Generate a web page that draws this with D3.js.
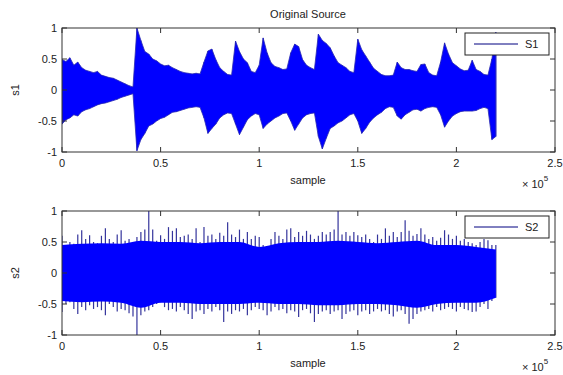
<!DOCTYPE html>
<html>
<head>
<meta charset="utf-8">
<script src="https://cdn.jsdelivr.net/npm/d3@7"></script>
<style>
  body { margin: 0; background: #fff; }
  text { font-family: "Liberation Sans", Arial, sans-serif; fill: #222; }
</style>
</head>
<body>
<div id="chart"></div>
<script>
// sample grid (x 10^5)
const step = 0.02;
const samplePos = d3.range(0, 2.2001, step);
const bodyPos = d3.range(0, 2.2001, 0.1);

const xTicks = [0, 0.5, 1, 1.5, 2, 2.5];
const yTicks = [-1, -0.5, 0, 0.5, 1];

// S1 envelope, every 0.02e5 samples
const s1Upper = [0.49,0.46,0.52,0.40,0.45,0.36,0.32,0.30,0.28,0.30,0.24,0.22,0.20,0.19,0.16,0.13,0.10,0.07,0.05,
  1.00,0.80,0.62,0.58,0.50,0.47,0.42,0.39,0.40,0.36,0.33,0.30,0.28,0.27,0.26,0.27,0.26,
  0.45,0.63,0.66,0.49,0.36,0.30,0.25,0.24,0.79,0.62,0.50,0.44,0.30,0.28,
  0.40,0.84,0.60,0.44,0.38,0.36,0.33,0.34,0.60,0.74,0.70,0.49,0.40,0.36,0.33,
  0.90,0.80,0.75,0.68,0.55,0.44,0.40,0.36,0.30,0.28,0.82,0.65,0.55,0.45,0.35,0.30,0.25,0.23,0.23,0.24,
  0.45,0.36,0.33,0.33,0.31,0.30,0.41,0.42,0.28,0.24,0.23,0.45,0.76,0.58,0.44,0.39,0.34,0.31,0.32,0.48,
  0.33,0.30,0.25,0.24,0.50,0.93];
const s1Lower = [-0.55,-0.48,-0.45,-0.40,-0.42,-0.35,-0.32,-0.30,-0.27,-0.24,-0.22,-0.21,-0.19,-0.17,-0.15,-0.12,-0.10,-0.08,-0.06,
  -0.98,-0.80,-0.70,-0.58,-0.55,-0.50,-0.46,-0.44,-0.40,-0.36,-0.35,-0.33,-0.31,-0.29,-0.28,-0.27,-0.28,
  -0.45,-0.70,-0.62,-0.55,-0.45,-0.40,-0.37,-0.38,-0.55,-0.72,-0.60,-0.48,-0.42,-0.38,
  -0.40,-0.62,-0.55,-0.50,-0.45,-0.42,-0.38,-0.37,-0.50,-0.65,-0.55,-0.45,-0.40,-0.38,-0.37,
  -0.75,-0.95,-0.78,-0.62,-0.58,-0.53,-0.50,-0.45,-0.40,-0.38,-0.50,-0.70,-0.62,-0.52,-0.45,-0.40,-0.36,-0.30,-0.27,-0.28,
  -0.42,-0.47,-0.40,-0.36,-0.32,-0.31,-0.34,-0.30,-0.28,-0.27,-0.28,-0.40,-0.60,-0.50,-0.42,-0.38,-0.35,-0.34,-0.34,-0.34,
  -0.33,-0.30,-0.28,-0.30,-0.80,-0.75];

// S2 peaks every 0.02e5 samples, and the dense body every 0.1e5
const s2Upper = [0.60,0.45,0.50,0.47,0.62,0.69,0.55,0.61,0.50,0.48,0.60,0.72,0.55,0.50,0.62,0.69,0.52,0.55,0.48,0.58,
  0.66,0.70,1.00,0.70,0.52,0.61,0.55,0.74,0.68,0.72,0.58,0.60,0.62,0.55,0.72,0.50,0.74,0.60,0.62,0.55,
  0.65,0.60,0.82,0.62,0.58,0.70,0.55,0.66,0.55,0.60,0.58,0.45,0.42,0.55,0.66,0.60,0.55,0.70,0.72,0.58,
  0.66,0.60,0.68,0.62,0.55,0.60,0.66,0.62,0.66,0.70,1.00,0.62,0.66,0.60,0.66,0.61,0.58,0.62,0.55,0.50,
  0.62,0.55,0.72,0.60,0.66,0.58,0.66,0.85,0.68,0.60,0.63,0.72,0.62,0.55,0.58,0.52,0.57,0.69,0.62,0.55,
  0.60,0.52,0.55,0.50,0.48,0.45,0.50,0.55,0.53,0.45,0.45];
const s2Lower = [-0.63,-0.50,-0.47,-0.58,-0.66,-0.55,-0.60,-0.52,-0.58,-0.55,-0.60,-0.68,-0.50,-0.55,-0.62,-0.58,-0.60,-0.65,-0.70,-1.00,
  -0.68,-0.62,-0.60,-0.55,-0.50,-0.47,-0.55,-0.60,-0.58,-0.62,-0.55,-0.60,-0.66,-0.74,-0.62,-0.60,-0.66,-0.58,-0.62,-0.55,
  -0.60,-0.79,-0.62,-0.66,-0.60,-0.62,-0.58,-0.68,-0.60,-0.55,-0.58,-0.60,-0.68,-0.62,-0.55,-0.60,-0.58,-0.65,-0.60,-0.62,
  -0.71,-0.60,-0.58,-0.65,-0.79,-0.66,-0.62,-0.60,-0.66,-0.62,-0.60,-0.74,-0.66,-0.62,-0.60,-0.68,-0.62,-0.60,-0.66,-0.62,
  -0.58,-0.62,-0.60,-0.66,-0.70,-0.62,-0.60,-0.66,-0.82,-0.74,-0.66,-0.62,-0.60,-0.58,-0.62,-0.55,-0.60,-0.58,-0.55,-0.58,
  -0.62,-0.55,-0.58,-0.60,-0.63,-0.62,-0.55,-0.50,-0.58,-0.45,-0.40];
const s2BodyUpper = [0.45,0.47,0.48,0.47,0.52,0.50,0.50,0.48,0.50,0.50,0.42,0.48,0.50,0.50,0.52,0.50,0.48,0.50,0.52,0.45,0.45,0.42,0.38];
const s2BodyLower = [-0.45,-0.47,-0.46,-0.48,-0.56,-0.48,-0.48,-0.50,-0.50,-0.50,-0.48,-0.50,-0.50,-0.52,-0.52,-0.50,-0.50,-0.52,-0.56,-0.50,-0.48,-0.48,-0.40];

const width = 563, height = 375;
const svg = d3.select('#chart').append('svg')
  .attr('width', width).attr('height', height);

const x = d3.scaleLinear().domain([0, 2.5]).range([62, 555]);

function panel(top, bottom, name, label, upper, lower, bodyUp, bodyLo, title) {
  const y = d3.scaleLinear().domain([-1, 1]).range([bottom, top]);
  const g = svg.append('g');
  const clipId = 'clip-' + name;
  svg.append('clipPath').attr('id', clipId)
    .append('rect').attr('x', x(0)).attr('y', top).attr('width', x(2.5) - x(0)).attr('height', bottom - top);
  const data = g.append('g').attr('clip-path', `url(#${clipId})`);

  const env = samplePos.map((p, i) => ({ p, hi: upper[i], lo: lower[i] }));
  const area = d3.area().x(d => x(d.p)).y0(d => y(d.lo)).y1(d => y(d.hi));

  // spikes first, dense part painted over them
  data.selectAll('line.spike').data(env).enter().append('line')
    .attr('class', 'spike')
    .attr('x1', d => x(d.p)).attr('x2', d => x(d.p))
    .attr('y1', d => y(d.lo)).attr('y2', d => y(d.hi))
    .attr('stroke', bodyUp ? '#34349c' : '#2020c8').attr('stroke-width', bodyUp ? 1.2 : 1);

  if (bodyUp) {
    const body = bodyPos.map((p, i) => ({ p, hi: bodyUp[i], lo: bodyLo[i] }));
    data.append('path').datum(body)
      .attr('d', area.curve(d3.curveMonotoneX))
      .attr('fill', '#0000ff');
  } else {
    data.append('path').datum(env)
      .attr('d', area.curve(d3.curveLinear))
      .attr('fill', '#0000ff')
      .attr('stroke', '#2a2ab0').attr('stroke-width', 0.8);
  }

  // box
  g.append('rect').attr('x', x(0)).attr('y', top)
    .attr('width', x(2.5) - x(0)).attr('height', bottom - top)
    .attr('fill', 'none').attr('stroke', '#333').attr('stroke-width', 1);

  const tl = 5;
  xTicks.forEach(t => {
    g.append('line').attr('x1', x(t)).attr('x2', x(t)).attr('y1', bottom).attr('y2', bottom - tl).attr('stroke', '#333');
    g.append('line').attr('x1', x(t)).attr('x2', x(t)).attr('y1', top).attr('y2', top + tl).attr('stroke', '#333');
    g.append('text').attr('x', x(t)).attr('y', bottom + 15)
      .attr('text-anchor', 'middle').attr('font-size', 11).text(t);
  });
  yTicks.forEach(t => {
    g.append('line').attr('x1', x(0)).attr('x2', x(0) + tl).attr('y1', y(t)).attr('y2', y(t)).attr('stroke', '#333');
    g.append('line').attr('x1', x(2.5)).attr('x2', x(2.5) - tl).attr('y1', y(t)).attr('y2', y(t)).attr('stroke', '#333');
    g.append('text').attr('x', x(0) - 5).attr('y', y(t) + 4)
      .attr('text-anchor', 'end').attr('font-size', 11).text(t);
  });

  g.append('text').attr('x', 308).attr('y', bottom + 32)
    .attr('text-anchor', 'middle').attr('font-size', 11).text('sample');
  const ex = g.append('text').attr('x', 522).attr('y', bottom + 36).attr('font-size', 11);
  ex.append('tspan').text('\u00d7 10');
  ex.append('tspan').attr('dy', -7).attr('font-size', 8).text('5');

  g.append('text').attr('transform', `translate(19,${(top + bottom) / 2}) rotate(-90)`)
    .attr('text-anchor', 'middle').attr('font-size', 11).text(name.toLowerCase());

  if (title) {
    g.append('text').attr('x', 308).attr('y', top - 10)
      .attr('text-anchor', 'middle').attr('font-size', 11).text(title);
  }

  // legend
  const lx = 465, ly = top + 5;
  g.append('rect').attr('x', lx).attr('y', ly).attr('width', 84).attr('height', 22)
    .attr('fill', '#fff').attr('stroke', '#222');
  g.append('line').attr('x1', lx + 9).attr('x2', lx + 53).attr('y1', ly + 11).attr('y2', ly + 11)
    .attr('stroke', '#000080').attr('stroke-width', 1);
  g.append('text').attr('x', lx + 60).attr('y', ly + 15).attr('font-size', 11).text(label);
}

panel(28, 152, 'S1', 'S1', s1Upper, s1Lower, null, null, 'Original Source');
panel(211, 335, 'S2', 'S2', s2Upper, s2Lower, s2BodyUpper, s2BodyLower, null);
</script>
</body>
</html>
